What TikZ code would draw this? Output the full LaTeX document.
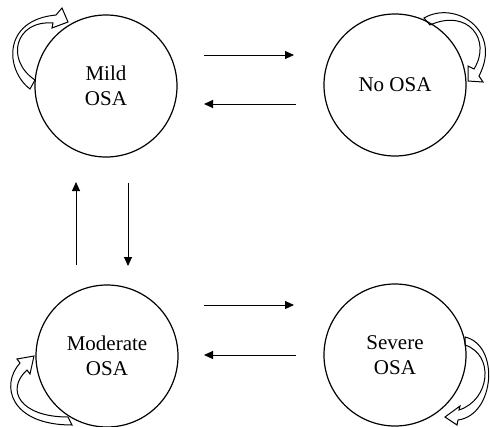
\documentclass[tikz,border=0pt]{standalone}
\usepackage{fontspec}
\setmainfont{Liberation Serif}
\usetikzlibrary{arrows.meta}
\begin{document}
\begin{tikzpicture}[x=1pt,y=-1pt,
  state/.style={draw, circle, minimum size=142pt, inner sep=0pt, line width=1.2pt,
    align=center, font=\fontsize{21}{25}\selectfont},
  trans/.style={-{Triangle[length=9pt,width=8pt]}, line width=0.9pt},
  loopar/.style={draw, line width=1pt, line join=miter}]
\useasboundingbox (0,0) rectangle (490,426);

% states
\node[state] (mild) at (106,86) {Mild\\OSA};
\node[state] (noosa) at (395,85) {No OSA};
\node[state] (mod) at (107,356) {Moderate\\OSA};
\node[state] (sev) at (395,355) {Severe\\OSA};

% transition end points
\coordinate (t1s) at (204,55);  \coordinate (t1e) at (294,55);
\coordinate (t2s) at (296,104); \coordinate (t2e) at (204,104);
\coordinate (t3s) at (204,305); \coordinate (t3e) at (294,305);
\coordinate (t4s) at (296,355); \coordinate (t4e) at (204,355);
\coordinate (t5s) at (76,265);  \coordinate (t5e) at (76,182);
\coordinate (t6s) at (128,183); \coordinate (t6e) at (128,266);

\draw[trans] (t1s) -- (t1e);
\draw[trans] (t2s) -- (t2e);
\draw[trans] (t3s) -- (t3e);
\draw[trans] (t4s) -- (t4e);
\draw[trans] (t5s) -- (t5e);
\draw[trans] (t6s) -- (t6e);

% self loops (hollow curved block arrows)
% Mild OSA
\draw[loopar] (30,89) .. controls (5,70) and (2,20) .. (56,15)
  -- (62,8) -- (68,22) -- (52,28) -- (53,23)
  .. controls (15,20) and (5,60) .. (35,80) -- cycle;
% No OSA
\draw[loopar] (424,18) .. controls (455,0) and (503,30) .. (479,76)
  -- (483,82) -- (468,81) -- (468,66) -- (474,69)
  .. controls (492,40) and (468,8) .. (430,25) -- cycle;
% Moderate OSA
\draw[loopar] (72,425) .. controls (10,425) and (0,385) .. (20,363)
  -- (17,359) -- (34,356) -- (30,374) -- (27,370)
  .. controls (5,390) and (20,417) .. (68,417) -- cycle;
% Severe OSA
\draw[loopar] (465,337) .. controls (500,345) and (495,415) .. (458,420)
  -- (457,425) -- (445,417) -- (460,406) -- (459,410)
  .. controls (490,400) and (495,355) .. (465,345) -- cycle;
\end{tikzpicture}
\end{document}
